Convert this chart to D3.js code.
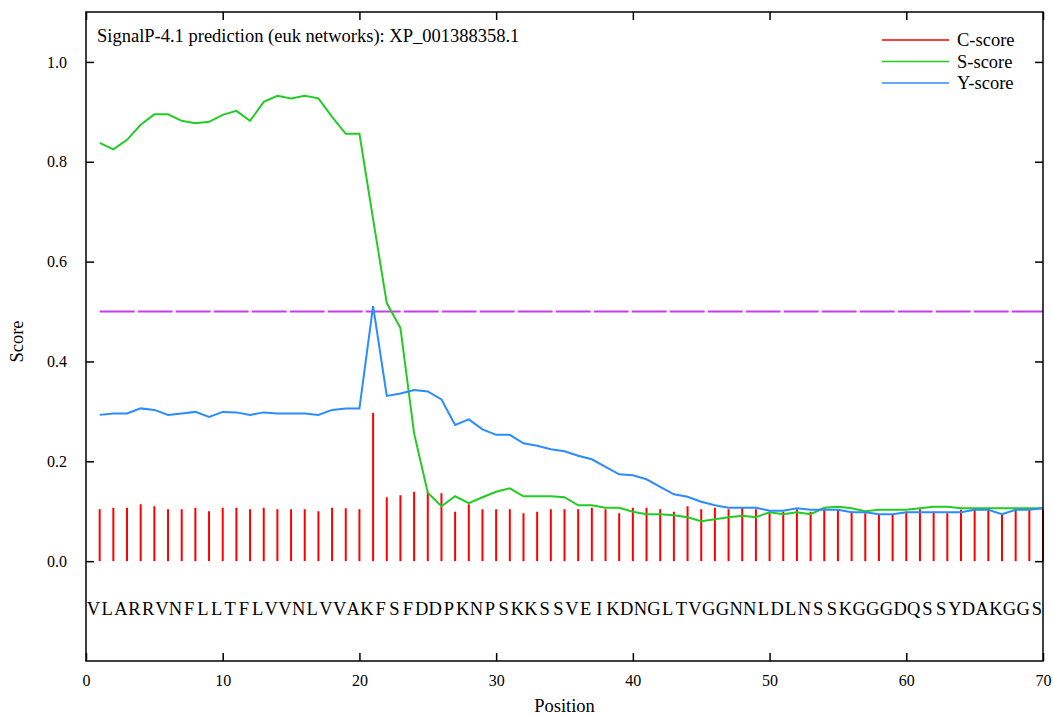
<!DOCTYPE html>
<html>
<head>
<meta charset="utf-8">
<script src="https://cdn.jsdelivr.net/npm/d3@7"></script>
<style>
  body { margin: 0; background: #fff; }
  svg text { font-family: "Liberation Serif", "DejaVu Serif", serif; fill: #000; }
</style>
</head>
<body>
<svg id="chart" width="1053" height="715"></svg>
<script>
// residue sequence, one letter per position 1..70
var sequence = "VLARRVNFLLTFLVVNLVVAKFSFDDPKNPSKKSSVEIKDNGLTVGGNNLDLNSSKGGGDQSSYDAKGGS".split("");

var cScore = [0.104, 0.107, 0.107, 0.114, 0.110, 0.104, 0.104, 0.107, 0.100, 0.107,
              0.107, 0.104, 0.107, 0.104, 0.104, 0.104, 0.100, 0.107, 0.106, 0.104,
              0.297, 0.128, 0.132, 0.139, 0.139, 0.136, 0.099, 0.114, 0.104, 0.104,
              0.104, 0.096, 0.099, 0.104, 0.104, 0.104, 0.107, 0.104, 0.096, 0.107,
              0.107, 0.104, 0.099, 0.110, 0.104, 0.107, 0.104, 0.107, 0.104, 0.096,
              0.099, 0.104, 0.099, 0.107, 0.103, 0.099, 0.096, 0.093, 0.093, 0.099,
              0.104, 0.099, 0.096, 0.103, 0.103, 0.103, 0.093, 0.103, 0.103, 0.103];

var sScore = [0.838, 0.825, 0.844, 0.874, 0.895, 0.895, 0.882, 0.877, 0.880, 0.894,
              0.902, 0.882, 0.920, 0.932, 0.927, 0.932, 0.927, 0.890, 0.856, 0.856,
              0.685, 0.517, 0.467, 0.256, 0.137, 0.110, 0.130, 0.116, 0.128, 0.139,
              0.146, 0.130, 0.130, 0.130, 0.128, 0.112, 0.112, 0.107, 0.107, 0.099,
              0.094, 0.094, 0.092, 0.088, 0.080, 0.084, 0.088, 0.091, 0.088, 0.098,
              0.094, 0.098, 0.094, 0.107, 0.109, 0.106, 0.100, 0.103, 0.103, 0.103,
              0.106, 0.109, 0.109, 0.106, 0.106, 0.106, 0.106, 0.106, 0.106, 0.106];

var yScore = [0.293, 0.296, 0.296, 0.306, 0.303, 0.293, 0.296, 0.299, 0.289, 0.299,
              0.298, 0.293, 0.298, 0.296, 0.296, 0.296, 0.293, 0.303, 0.306, 0.306,
              0.511, 0.331, 0.336, 0.343, 0.340, 0.324, 0.273, 0.284, 0.264, 0.253,
              0.253, 0.236, 0.231, 0.224, 0.220, 0.211, 0.204, 0.189, 0.174, 0.172,
              0.164, 0.149, 0.134, 0.129, 0.119, 0.112, 0.107, 0.107, 0.107, 0.101,
              0.101, 0.106, 0.103, 0.103, 0.103, 0.098, 0.098, 0.094, 0.094, 0.098,
              0.098, 0.098, 0.098, 0.098, 0.103, 0.103, 0.094, 0.103, 0.103, 0.106];

var cutoff = 0.5;
var xTicks = [0, 10, 20, 30, 40, 50, 60, 70];
var yTicks = [0.0, 0.2, 0.4, 0.6, 0.8, 1.0];
var legendNames = ["C-score", "S-score", "Y-score"];
var legendColors = ["#ff0000", "#22cc22", "#2b8cff"];
var titleText = "SignalP-4.1 prediction (euk networks): XP_001388358.1";

var svg = d3.select("#chart");
var margin = {top: 12, right: 10, bottom: 54, left: 86};
var W = 1053, H = 715;

var x = d3.scaleLinear().domain([0, 70]).range([margin.left, W - margin.right]);
var y = d3.scaleLinear().domain([-0.2, 1.1]).range([H - margin.bottom, margin.top]);

var positions = d3.range(1, 71);

// cutoff line
svg.append("line")
  .attr("x1", x(1)).attr("x2", x(70))
  .attr("y1", y(cutoff)).attr("y2", y(cutoff))
  .attr("stroke", "#c03ff0").attr("stroke-width", 2)
  .attr("stroke-dasharray", "35,3");

// C-score bars
svg.append("g").selectAll("line").data(cScore).join("line")
  .attr("x1", function(d, i) { return x(positions[i]); })
  .attr("x2", function(d, i) { return x(positions[i]); })
  .attr("y1", y(0)).attr("y2", function(d) { return y(d); })
  .attr("stroke", legendColors[0]).attr("stroke-width", 2);

var line = d3.line()
  .x(function(d, i) { return x(positions[i]); })
  .y(function(d) { return y(d); });

svg.append("path").datum(sScore).attr("d", line)
  .attr("fill", "none").attr("stroke", legendColors[1]).attr("stroke-width", 2);
svg.append("path").datum(yScore).attr("d", line)
  .attr("fill", "none").attr("stroke", legendColors[2]).attr("stroke-width", 2);

// sequence letters
svg.append("g").selectAll("text").data(sequence).join("text")
  .attr("x", function(d, i) { return x(positions[i] - 0.45); })
  .attr("y", 615)
  .attr("text-anchor", "middle")
  .style("font-size", "18.5px")
  .text(function(d) { return d; });

// frame
svg.append("rect")
  .attr("x", x(0)).attr("y", y(1.1))
  .attr("width", x(70) - x(0)).attr("height", y(-0.2) - y(1.1))
  .attr("fill", "none").attr("stroke", "#000").attr("stroke-width", 1.5);

// axes with inward ticks
var axB = svg.append("g").attr("transform", "translate(0," + y(-0.2) + ")")
  .call(d3.axisBottom(x).tickValues(xTicks).tickSizeInner(-8).tickSizeOuter(0).tickPadding(14));
var axT = svg.append("g").attr("transform", "translate(0," + y(1.1) + ")")
  .call(d3.axisTop(x).tickValues(xTicks).tickSizeInner(-8).tickSizeOuter(0).tickFormat(""));
var axL = svg.append("g").attr("transform", "translate(" + x(0) + ",0)")
  .call(d3.axisLeft(y).tickValues(yTicks).tickSizeInner(-8).tickSizeOuter(0).tickPadding(19)
    .tickFormat(d3.format(".1f")));
var axR = svg.append("g").attr("transform", "translate(" + x(70) + ",0)")
  .call(d3.axisRight(y).tickValues(yTicks).tickSizeInner(-8).tickSizeOuter(0).tickFormat(""));

[axB, axT, axL, axR].forEach(function(a) {
  a.select(".domain").remove();
  a.selectAll(".tick line").attr("stroke", "#000").attr("stroke-width", 1.5);
  a.selectAll("text").style("font-size", "16px")
    .style("font-family", '"Liberation Serif", serif');
});

// title
svg.append("text").attr("x", 97).attr("y", 42)
  .style("font-size", "18.5px").text(titleText);

// legend
var leg = svg.append("g").selectAll("g").data(legendNames).join("g")
  .attr("transform", function(d, i) { return "translate(882," + (40 + i * 21.5) + ")"; });
leg.append("line").attr("x1", 0).attr("x2", 67)
  .attr("stroke", function(d, i) { return legendColors[i]; }).attr("stroke-width", 1.5);
leg.append("text").attr("x", 75).attr("y", 6)
  .style("font-size", "18.5px").text(function(d) { return d; });

// axis titles
svg.append("text").attr("x", x(35)).attr("y", 712)
  .attr("text-anchor", "middle").style("font-size", "18.5px").text("Position");
svg.append("text")
  .attr("transform", "translate(23," + y(0.44) + ") rotate(-90)")
  .attr("text-anchor", "middle").style("font-size", "18.5px").text("Score");
</script>
</body>
</html>
